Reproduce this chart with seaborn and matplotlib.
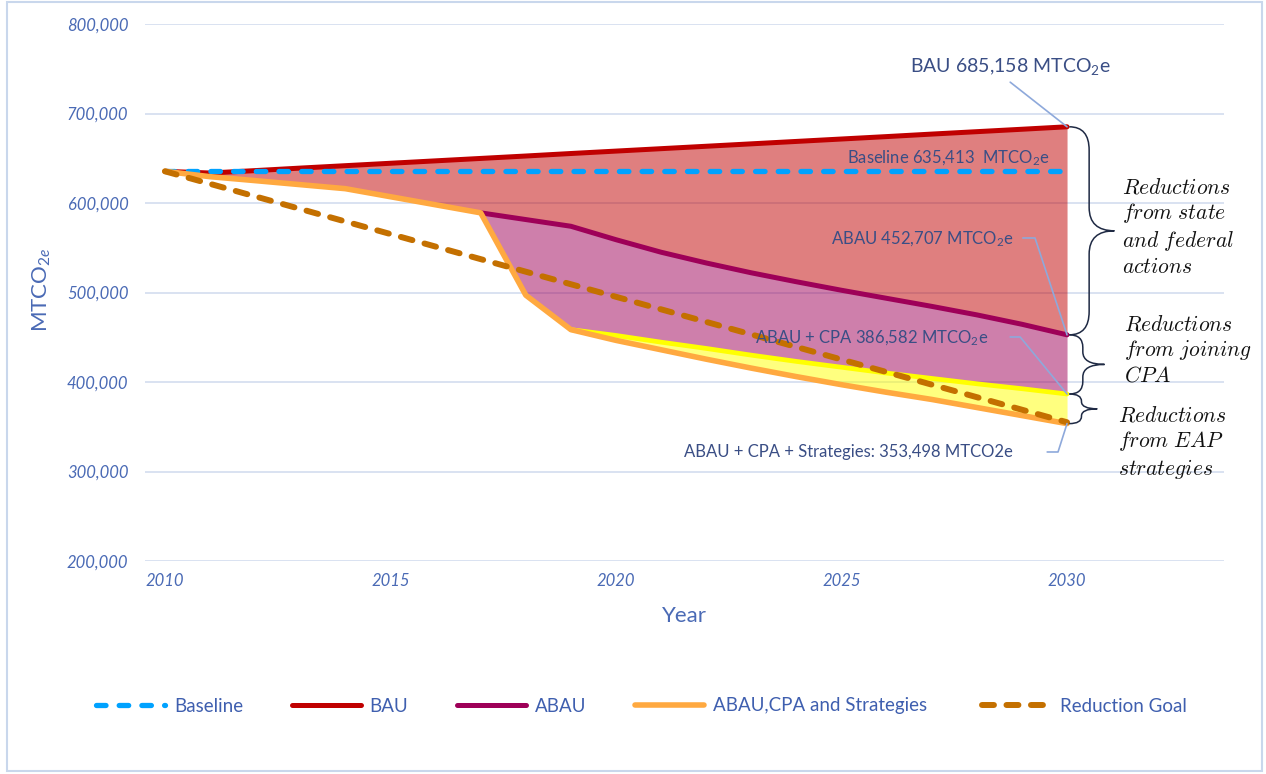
import matplotlib
matplotlib.use("Agg")
import pandas as pd
import matplotlib.pyplot as plt
import seaborn as sns
from matplotlib.path import Path
from matplotlib.patches import PathPatch, Rectangle
from matplotlib.ticker import FuncFormatter

# emissions in thousand MTCO2e
years = list(range(2010, 2031))
bau = [635.4, 633.5, 636.2, 639.0, 641.7, 644.4, 647.1, 649.8, 652.5, 655.3, 658.0,
       660.7, 663.4, 666.1, 668.8, 671.5, 674.2, 677.0, 679.7, 682.4, 685.158]
abau = [635.4, 629.4, 625.0, 620.5, 616.0, 607.0, 598.0, 589.0, 581.5, 574.0, 559.0,
        545.0, 533.0, 522.0, 512.0, 502.5, 493.5, 484.5, 475.0, 464.5, 452.707]
abau_cpa = [635.4, 629.4, 625.0, 620.5, 616.0, 607.0, 598.0, 589.0, 497.0, 458.5, 452.0,
            444.5, 437.5, 430.0, 423.0, 416.5, 410.0, 404.0, 398.0, 392.5, 386.582]
strategies = [635.4, 629.4, 625.0, 620.5, 616.0, 607.0, 598.0, 589.0, 497.0, 458.5, 446.5,
              436.0, 425.5, 415.5, 406.0, 397.0, 388.5, 380.5, 371.5, 362.5, 353.498]
baseline_years = [2010, 2030]
baseline = [635.413, 635.413]
goal_years = [2010, 2030]
goal = [635.413, 355.0]
cpa_start = 2019

df = pd.DataFrame({"year": years, "bau": bau, "abau": abau,
                   "abau_cpa": abau_cpa, "strategies": strategies})
df[["bau", "abau", "abau_cpa", "strategies"]] *= 1000
df_base = pd.DataFrame({"year": baseline_years, "value": [v * 1000 for v in baseline]})
df_goal = pd.DataFrame({"year": goal_years, "value": [v * 1000 for v in goal]})
df_cpa = df[df.year >= cpa_start]

sns.set_theme(style="white")
plt.rcParams["font.family"] = ["Lato", "DejaVu Sans"]
plt.rcParams["mathtext.fontset"] = "custom"
plt.rcParams["mathtext.rm"] = "Lato"
plt.rcParams["mathtext.it"] = "Lato:italic"

BLUE = "#4A6AB5"
LABEL = "#3A4E85"
LEADER = "#8EA9DB"
BRACE = "#1F2A44"

fig = plt.figure(figsize=(12.66, 7.74), dpi=100)
ax = fig.add_axes([145 / 1266, 1 - 561 / 774, 1079 / 1266, 537 / 774])

# shaded reduction wedges
ax.fill_between(df.year, df.bau, df.abau, color="#C00000", alpha=0.5, lw=0, zorder=1)
ax.fill_between(df.year, df.abau, df.abau_cpa, color="#9E0058", alpha=0.5, lw=0, zorder=1)
ax.fill_between(df.year, df.abau_cpa, df.strategies, color="#FFFF00", alpha=0.5, lw=0, zorder=1)

sns.lineplot(data=df_cpa, x="year", y="abau_cpa", ax=ax, color="#FFFF00", lw=3.4,
             legend=False, zorder=2, errorbar=None)
sns.lineplot(data=df, x="year", y="bau", ax=ax, color="#C00000", lw=3.6,
             label="BAU", legend=False, zorder=3, errorbar=None, solid_capstyle="round")
sns.lineplot(data=df_base, x="year", y="value", ax=ax, color="#00A2FF", lw=3.8,
             label="Baseline", legend=False, zorder=4, errorbar=None,
             linestyle=(0, (1.8, 2.5)), dash_capstyle="round")
sns.lineplot(data=df[df.year >= 2017], x="year", y="abau", ax=ax, color="#9E0058", lw=3.6,
             label="ABAU", legend=False, zorder=3, errorbar=None, solid_capstyle="round")
sns.lineplot(data=df, x="year", y="strategies", ax=ax, color="#FFA940", lw=4.0,
             label="ABAU,CPA and Strategies", legend=False, zorder=4, errorbar=None,
             solid_capstyle="round", solid_joinstyle="round")
sns.lineplot(data=df_goal, x="year", y="value", ax=ax, color="#C47000", lw=4.3,
             label="Reduction Goal", legend=False, zorder=5, errorbar=None,
             linestyle=(0, (2.0, 2.1)), dash_capstyle="round")

ax.set_xlim(2009.557, 2033.48)
ax.set_ylim(200000, 800000)
ax.set_xticks([2010, 2015, 2020, 2025, 2030])
ax.set_yticks(range(200000, 800001, 100000))
ax.yaxis.set_major_formatter(FuncFormatter(lambda v, _: f"{v:,.0f}"))
ax.tick_params(length=0, labelsize=12, labelcolor=BLUE)
ax.tick_params(axis="y", pad=12)
ax.tick_params(axis="x", pad=9)
for lbl in ax.get_xticklabels() + ax.get_yticklabels():
    lbl.set_style("italic")
ax.yaxis.grid(True, color="#D3DDEF", lw=1.2, zorder=0)
ax.set_axisbelow(True)
for s in ax.spines.values():
    s.set_visible(False)
ax.set_xlabel("Year", fontsize=16, color=BLUE, labelpad=12)
ax.set_ylabel("")
fig.text(42 / 1266, 1 - 290 / 774, "MTCO$_{2e}$", rotation=90, ha="center", va="center",
         fontsize=16, color=BLUE)

# value labels with leader lines
end = df.iloc[-1]
ax.text(2028.74, 753000, "BAU 685,158 MTCO$_2$e", ha="center", va="center",
        fontsize=14, color=LABEL)
ax.plot([2028.74, 2030], [735000, end.bau], color=LEADER, lw=1.2, clip_on=False, zorder=6)
ax.text(2029.62, 650300, "Baseline 635,413  MTCO$_2$e", ha="right", va="center",
        fontsize=12, color=LABEL, zorder=6)
ax.text(2028.82, 559800, "ABAU 452,707 MTCO$_2$e", ha="right", va="center",
        fontsize=12, color=LABEL, zorder=6)
ax.plot([2029.02, 2029.29, 2030], [560900, 560900, end.abau], color=LEADER, lw=1.2,
        clip_on=False, zorder=6)
ax.text(2028.25, 449200, "ABAU + CPA 386,582 MTCO$_2$e", ha="right", va="center",
        fontsize=12, color=LABEL, zorder=6)
ax.plot([2028.74, 2028.96, 2030], [450300, 450300, end.abau_cpa], color=LEADER, lw=1.2,
        clip_on=False, zorder=6)
ax.text(2028.8, 321800, "ABAU + CPA + Strategies: 353,498 MTCO2e", ha="right", va="center",
        fontsize=12, color=LABEL, zorder=6)
ax.plot([2029.56, 2029.8, 2030], [321800, 321800, end.strategies], color=LEADER, lw=1.2,
        clip_on=False, zorder=6)


def brace(x0, y_top, y_bot, spine, tip, r):
    ym = (y_top + y_bot) / 2
    xs, xt = x0 + spine, x0 + tip
    verts = [(x0, y_top), (xs, y_top), (xs, y_top - r),
             (xs, ym + r), (xs, ym), (xt, ym),
             (xs, ym), (xs, ym - r),
             (xs, y_bot + r), (xs, y_bot), (x0, y_bot)]
    codes = [Path.MOVETO, Path.CURVE3, Path.CURVE3,
             Path.LINETO, Path.CURVE3, Path.CURVE3,
             Path.CURVE3, Path.CURVE3,
             Path.LINETO, Path.CURVE3, Path.CURVE3]
    ax.add_patch(PathPatch(Path(verts, codes), fill=False, edgecolor=BRACE, lw=1.1,
                           clip_on=False, zorder=6))


brace(2030.05, end.bau, end.abau, 0.44, 1.0, 26000)
brace(2030.05, end.abau, end.abau_cpa, 0.3, 0.78, 14000)
brace(2030.05, end.abau_cpa, end.strategies, 0.27, 0.62, 8000)

notes = [(2031.22, 573200, ["Reductions", "from\\ state", "and\\ federal", "actions"]),
         (2031.26, 435800, ["Reductions", "from\\ joining", "CPA"]),
         (2031.13, 331800, ["Reductions", "from\\ EAP", "strategies"])]
for x, y, lines in notes:
    txt = "\n".join("$\\mathit{" + s + "}$" for s in lines)
    ax.text(x, y, txt, ha="left", va="center", fontsize=15.5, color="#111111",
            math_fontfamily="cm", linespacing=1.22, clip_on=False, zorder=6)

# legend along the bottom
handles, labels = ax.get_legend_handles_labels()
order = ["Baseline", "BAU", "ABAU", "ABAU,CPA and Strategies"]
h = {l: hd for hd, l in zip(handles, labels)}
leg_kw = dict(frameon=False, fontsize=13.5, labelcolor="#3F5FAF", handlelength=3.7,
              handletextpad=0.45, borderpad=0, borderaxespad=0)
fig.legend([h[o] for o in order], order, loc="center left",
           bbox_to_anchor=(96 / 1266, 1 - 706 / 774), ncol=4, columnspacing=2.6, **leg_kw)
fig.legend([h["Reduction Goal"]], ["Reduction Goal"], loc="center left",
           bbox_to_anchor=(982 / 1266, 1 - 706 / 774), **leg_kw)

fig.patches.append(Rectangle((0.0055, 0.004), 0.991, 0.993, transform=fig.transFigure,
                             fill=False, edgecolor="#C9D7EC", lw=1.5))

fig.savefig("out.png", dpi=100)
